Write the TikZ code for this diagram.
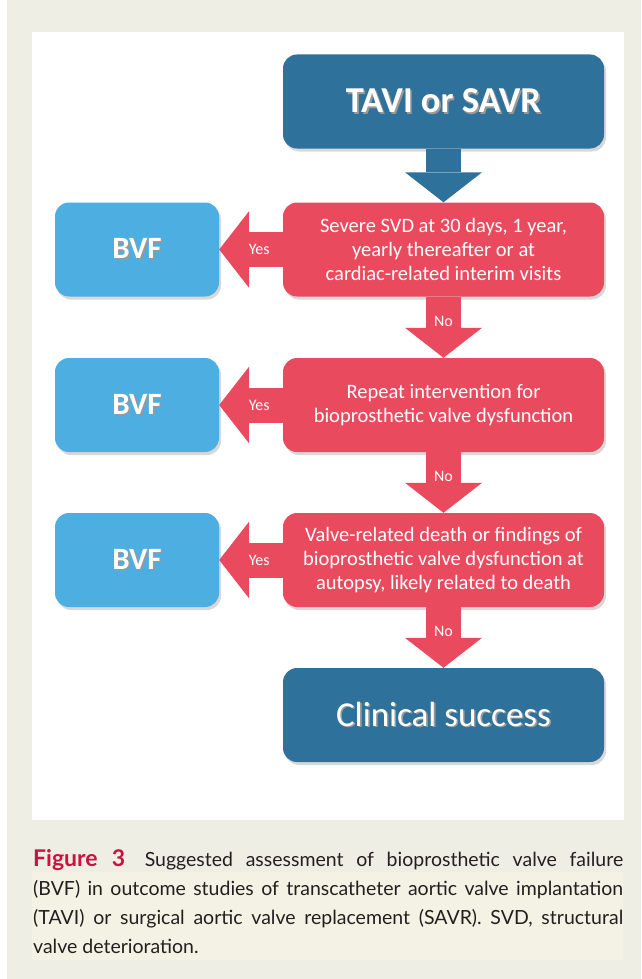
\documentclass[tikz,border=0pt]{standalone}
\usepackage{fontspec}
\setmainfont{Carlito}
\newfontfamily\capfont{Lato}
\usetikzlibrary{%
  arrows.meta,%
  shadows%
}
\definecolor{tavblue}{RGB}{46,114,155}
\definecolor{valred}{RGB}{234,74,94}
\definecolor{bvfblue}{RGB}{77,174,226}
\definecolor{pagebeige}{RGB}{238,238,228}
\definecolor{caphl}{RGB}{244,242,228}
\definecolor{figred}{RGB}{205,17,62}
\definecolor{captext}{RGB}{35,31,32}
\newcommand\shtxt[1]{\makebox[0pt][l]{\hspace{1.6pt}\raisebox{-1.6pt}{\color{black!40}#1}}#1}
\tikzset{>=latex}

\begin{document}
\begin{tikzpicture}[x=1pt,y=-1pt,
    startbox/.style={rounded corners=14pt,minimum width=321pt,minimum height=94pt,
      inner sep=0pt,align=center,text=white,fill=tavblue,
      drop shadow={shadow xshift=2pt,shadow yshift=-3pt,opacity=0.3}},
    testbox/.style={startbox,fill=valred,font=\fontsize{20.5}{24}\selectfont},
    bvfbox/.style={startbox,minimum width=164pt,fill=bvfblue,
      font=\fontsize{31}{36}\selectfont\bfseries},
    flowarrow/.style={line width=35pt,
      -{Triangle[width=77pt,length=30pt,line width=0pt]}},
    lbl/.style={text=white,font=\fontsize{16}{18}\selectfont}]
  \useasboundingbox (0,0) rectangle (641,979);
  \fill[white] (0,0) rectangle (641,979);
  \fill[pagebeige] (7,0) rectangle (641,979);
  \fill[white] (32,32) rectangle (624,820);
  \fill[caphl] (32,872) rectangle (623,960);

  \node[startbox,font=\fontsize{36.5}{40}\selectfont\bfseries] (tavi) at (443.5,101.5) {\shtxt{TAVI or SAVR}};
  \node[testbox] (q1) at (443.5,249.5) {Severe SVD at 30 days, 1 year,\\ yearly thereafter or at\\ cardiac-related interim visits};
  \node[testbox] (q2) at (443.5,405) {Repeat intervention for\\ bioprosthetic valve dysfunction};
  \node[testbox] (q3) at (443.5,560) {Valve-related death or findings of\\ bioprosthetic valve dysfunction at\\ autopsy, likely related to death};
  \node[startbox,font=\fontsize{35}{40}\selectfont] (ok) at (443.5,715) {\shtxt{Clinical success}};
  \node[bvfbox] (b1) at (137,249.5) {\shtxt{BVF}};
  \node[bvfbox] (b2) at (137,405) {\shtxt{BVF}};
  \node[bvfbox] (b3) at (137,560) {\shtxt{BVF}};

  \draw[flowarrow,tavblue] (tavi.south) -- (q1.north);
  \draw[flowarrow,valred] (q1.south) -- node[lbl,pos=0.4] {No} (q2.north);
  \draw[flowarrow,valred] (q2.south) -- node[lbl,pos=0.4] {No} (q3.north);
  \draw[flowarrow,valred] (q3.south) -- node[lbl,pos=0.4] {No} (ok.north);
  \draw[flowarrow,valred] (q1.west) -- node[lbl,pos=0.37] {Yes} (b1.east);
  \draw[flowarrow,valred] (q2.west) -- node[lbl,pos=0.37] {Yes} (b2.east);
  \draw[flowarrow,valred] (q3.west) -- node[lbl,pos=0.37] {Yes} (b3.east);

  \node[anchor=north west,inner sep=0pt,text width=590pt,align=justify,text=captext,
    font=\capfont\fontsize{19.5}{29}\selectfont] (cap) at (33,849)
    {{\fontsize{23}{29}\selectfont\bfseries\color{figred}Figure 3}\quad Suggested assessment of bioprosthetic valve failure\linebreak
     (BVF) in outcome studies of transcatheter aortic valve implantation\linebreak
     (TAVI) or surgical aortic valve replacement (SAVR). SVD, structural\linebreak
     valve deterioration.};
\end{tikzpicture}
\end{document}
